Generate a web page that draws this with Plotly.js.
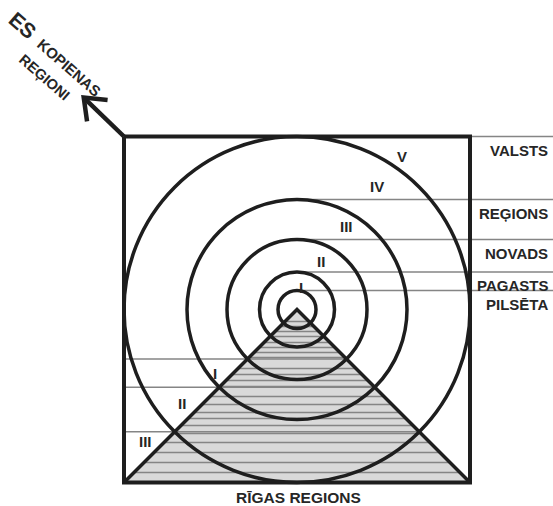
<!DOCTYPE html>
<html><head><meta charset="utf-8">
<script src="https://cdn.plot.ly/plotly-3.0.1.min.js"></script>
<style>html,body{margin:0;padding:0;background:#fff}#chart{width:553px;height:506px}</style>
</head><body><div id="chart"></div>
<script>
// ---- data ----
const levelLabels = ['VALSTS', 'REĢIONS', 'NOVADS', 'PAGASTS', 'PILSĒTA'];
const ringRadii = [173, 110, 70, 37.5, 19];           // outer to inner circle
const ringNumerals = ['V', 'IV', 'III', 'II', 'I'];
const regionNumerals = ['I', 'II', 'III'];
const regionRadii = [70, 110, 173];                   // circles crossing the triangle side
const hatchDepths = [12, 17, 22, 27, 33, 38, 43, 48, 59, 65, 71, 77, 87, 95, 103, 109, 116, 124, 133, 143, 153, 163];
const titleMain = 'ES';
const titleSub1 = 'KOPIENAS';
const titleSub2 = 'REĢIONI';
const bottomTitle = 'RĪGAS REGIONS';

// ---- layout helpers ----
const half = ringRadii[0];
const xr = [-297, 256], yr = [-196.5, 309.5];
const BLACK = '#1e1e1e', GRAY = '#858585', FILL = '#d9d9d9', TXT = '#262626';
const FONT = 'Liberation Sans, Arial, sans-serif';
const ringSpots = [[105, 153.5], [80, 123.5], [49, 83.5], [24, 48.5], [4, 22.5]];
const regionSpots = [[-82, -63.5], [-115, -93.5], [-152, -131.5]];

const traces = [];
// triangle fill
traces.push({x: [0, half, -half, 0], y: [0, -half, -half, 0], mode: 'lines', fill: 'toself',
  fillcolor: FILL, line: {width: 0}, hoverinfo: 'skip'});
// hatch lines
let hx = [], hy = [];
hatchDepths.forEach(d => { hx.push(-d, d, null); hy.push(-d, -d, null); });
regionRadii.forEach(r => { const d = r / Math.SQRT2; hx.push(-half, d, null); hy.push(-d, -d, null); });
traces.push({x: hx, y: hy, mode: 'lines', line: {color: GRAY, width: 1.5}, hoverinfo: 'skip'});
// level lines to the right
let lx = [], ly = [];
ringRadii.forEach(r => { lx.push(0, xr[1], null); ly.push(r, r, null); });
traces.push({x: lx, y: ly, mode: 'lines', line: {color: GRAY, width: 1.5}, hoverinfo: 'skip'});
// triangle sides
traces.push({x: [-half, 0, half], y: [-half, 0, -half], mode: 'lines', line: {color: BLACK, width: 3.5}, hoverinfo: 'skip'});
// square
traces.push({x: [-half, half, half, -half, -half], y: [half, half, -half, -half, half], mode: 'lines',
  line: {color: BLACK, width: 4}, hoverinfo: 'skip'});
// arrow
const aLen = 56, ang = 136 * Math.PI / 180, wing = 24, wAng = 38 * Math.PI / 180;
const tx = -half + aLen * Math.cos(ang), ty = half + aLen * Math.sin(ang);
const back = ang + Math.PI;
traces.push({x: [-half, tx, null, tx + wing * Math.cos(back - wAng), tx, tx + wing * Math.cos(back + wAng)],
  y: [half, ty, null, ty + wing * Math.sin(back - wAng), ty, ty + wing * Math.sin(back + wAng)],
  mode: 'lines', line: {color: BLACK, width: 4.5}, hoverinfo: 'skip'});

const shapes = ringRadii.map(r => ({type: 'circle', xref: 'x', yref: 'y', x0: -r, x1: r, y0: -r, y1: r,
  line: {color: BLACK, width: 3.5}, fillcolor: 'rgba(0,0,0,0)'}));

const ann = [];
const f = (s) => ({family: FONT, size: s, color: TXT});
levelLabels.forEach((t, i) => ann.push({x: 253, y: ringRadii[i] - 3, xanchor: 'right', yanchor: 'top',
  text: '<b>' + t + '</b>', showarrow: false, font: f(15)}));
ringNumerals.forEach((t, i) => ann.push({x: ringSpots[i][0], y: ringSpots[i][1], text: '<b>' + t + '</b>',
  showarrow: false, font: f(15)}));
regionNumerals.forEach((t, i) => ann.push({x: regionSpots[i][0], y: regionSpots[i][1], text: '<b>' + t + '</b>',
  showarrow: false, font: f(15)}));
ann.push({x: 1, y: -187.5, text: '<b>' + bottomTitle + '</b>', showarrow: false, font: f(15.5)});
ann.push({x: -274, y: 284.5, text: '<b>' + titleMain + '</b>', showarrow: false, textangle: 41, font: f(21)});
ann.push({x: -228, y: 242, text: '<b>' + titleSub1 + '</b>', showarrow: false, textangle: 41, font: f(15)});
ann.push({x: -253, y: 232.5, text: '<b>' + titleSub2 + '</b>', showarrow: false, textangle: 41, font: f(14.5)});

const layout = {
  width: 553, height: 506, margin: {l: 0, r: 0, t: 0, b: 0},
  paper_bgcolor: '#fff', plot_bgcolor: '#fff', showlegend: false,
  xaxis: {range: xr, visible: false, fixedrange: true},
  yaxis: {range: yr, visible: false, fixedrange: true},
  shapes: shapes, annotations: ann
};
Plotly.newPlot('chart', traces, layout, {staticPlot: true, displayModeBar: false});
</script></body></html>
